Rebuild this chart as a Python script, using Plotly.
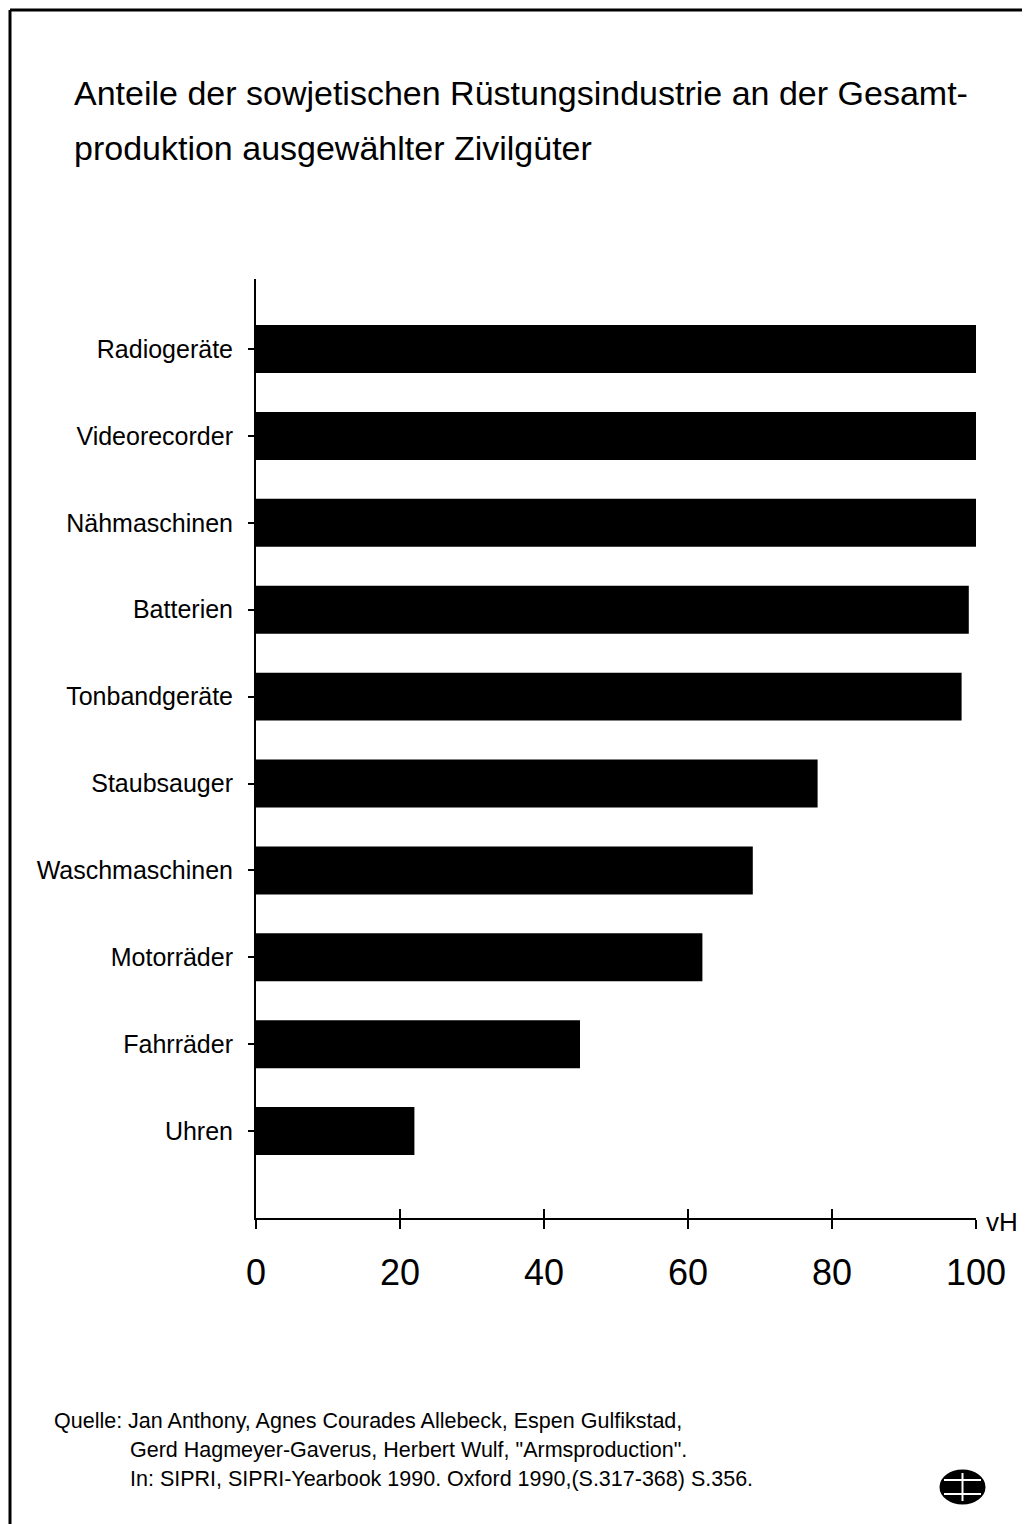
import plotly.graph_objects as go

# Data (top to bottom as shown)
categories = ["Radiogeräte", "Videorecorder", "Nähmaschinen", "Batterien", "Tonbandgeräte",
              "Staubsauger", "Waschmaschinen", "Motorräder", "Fahrräder", "Uhren"]
values = [100, 100, 100, 99, 98, 78, 69, 62, 45, 22]
x_ticks = [0, 20, 40, 60, 80, 100]

title_lines = ["Anteile der sowjetischen Rüstungsindustrie an der Gesamt-",
               "produktion ausgewählter Zivilgüter"]
source_lines = ["Quelle: Jan Anthony, Agnes Courades Allebeck, Espen Gulfikstad,",
                "Gerd Hagmeyer-Gaverus, Herbert Wulf, \"Armsproduction\".",
                "In: SIPRI, SIPRI-Yearbook 1990. Oxford 1990,(S.317-368) S.356."]

FONT = "Liberation Sans, Arial, sans-serif"

# the page body has an 8px margin; build the figure so that it lands on the screen grid
OFF = 8
W, H = 1030 - OFF, 1524 - OFF
# plot area in screen pixels
SL, SR, ST, SB = 256, 976, 279, 1218
L, R, T, B = SL - OFF, SR - OFF, ST - OFF, SB - OFF


def px(x):
    return (x - SL) / (SR - SL)


def py(y):
    return (SB - y) / (SB - ST)


fig = go.Figure()
fig.add_trace(go.Bar(
    y=categories[::-1], x=values[::-1], orientation="h",
    marker=dict(color="black", line=dict(width=0)),
    width=0.552, showlegend=False, hoverinfo="skip",
))
# invisible trace on overlay axis for crossing ticks
fig.add_trace(go.Scatter(x=[0, 100], y=[categories[-1], categories[-1]], xaxis="x2", yaxis="y",
                         mode="markers", marker=dict(opacity=0), showlegend=False,
                         hoverinfo="skip"))

fig.update_layout(
    width=W, height=H,
    margin=dict(l=L, r=W - R, t=T, b=H - B, autoexpand=False),
    paper_bgcolor="white", plot_bgcolor="white",
    font=dict(family=FONT, color="black"),
    xaxis=dict(range=[0, 100], tickvals=x_ticks, ticktext=[str(v) for v in x_ticks],
               showgrid=False, zeroline=False, showline=True, linecolor="black",
               linewidth=2, ticks="outside", ticklen=9, tickwidth=2, tickcolor="black",
               tickfont=dict(size=36, family=FONT), ticklabelstandoff=13, automargin=False),
    xaxis2=dict(range=[0, 100], tickvals=x_ticks, overlaying="x", side="bottom",
                showgrid=False, zeroline=False, showline=False, ticks="inside",
                ticklen=9, tickwidth=2, tickcolor="black", showticklabels=False,
                automargin=False),
    yaxis=dict(range=[-1.0, 9.806], showgrid=False, zeroline=False, showline=True,
               linecolor="black", linewidth=2, ticks="outside", ticklen=6, tickwidth=2,
               tickcolor="black", tickfont=dict(size=25, family=FONT),
               ticklabelstandoff=10, automargin=False,
               categoryorder="array", categoryarray=categories[::-1]),
)

annotations = []
annotations.append(dict(text=title_lines[0], x=px(72), y=py(93), xref="paper", yref="paper",
                        xanchor="left", yanchor="middle", showarrow=False,
                        font=dict(size=34, family=FONT)))
annotations.append(dict(text=title_lines[1], x=px(72), y=py(148), xref="paper", yref="paper",
                        xanchor="left", yanchor="middle", showarrow=False,
                        font=dict(size=34, family=FONT)))
src_pos = [(52, 1421), (128, 1450), (128, 1479)]
for line, (sx, sy) in zip(source_lines, src_pos):
    annotations.append(dict(text=line, x=px(sx), y=py(sy), xref="paper", yref="paper",
                            xanchor="left", yanchor="middle", showarrow=False,
                            font=dict(size=21.5, family=FONT)))
annotations.append(dict(text="vH", x=px(984), y=py(1222), xref="paper", yref="paper",
                        xanchor="left", yanchor="middle", showarrow=False,
                        font=dict(size=26, family=FONT)))
fig.update_layout(annotations=annotations)

shapes = [
    # page frame: left and top lines
    dict(type="line", xref="paper", yref="paper", x0=px(10), x1=px(10), y0=py(10), y1=py(1524),
         line=dict(color="black", width=3)),
    dict(type="line", xref="paper", yref="paper", x0=px(10), x1=px(1030), y0=py(10), y1=py(10),
         line=dict(color="black", width=3)),
    # logo (globe)
    dict(type="circle", xref="paper", yref="paper", x0=px(941), x1=px(984), y0=py(1503), y1=py(1471),
         line=dict(color="black", width=3), fillcolor="black"),
    dict(type="line", xref="paper", yref="paper", x0=px(944), x1=px(981), y0=py(1480), y1=py(1480),
         line=dict(color="white", width=2)),
    dict(type="line", xref="paper", yref="paper", x0=px(944), x1=px(981), y0=py(1494), y1=py(1494),
         line=dict(color="white", width=2)),
    dict(type="line", xref="paper", yref="paper", x0=px(962.5), x1=px(962.5), y0=py(1473), y1=py(1501),
         line=dict(color="white", width=2)),
]
fig.update_layout(shapes=shapes)

fig.write_html("out.html")
